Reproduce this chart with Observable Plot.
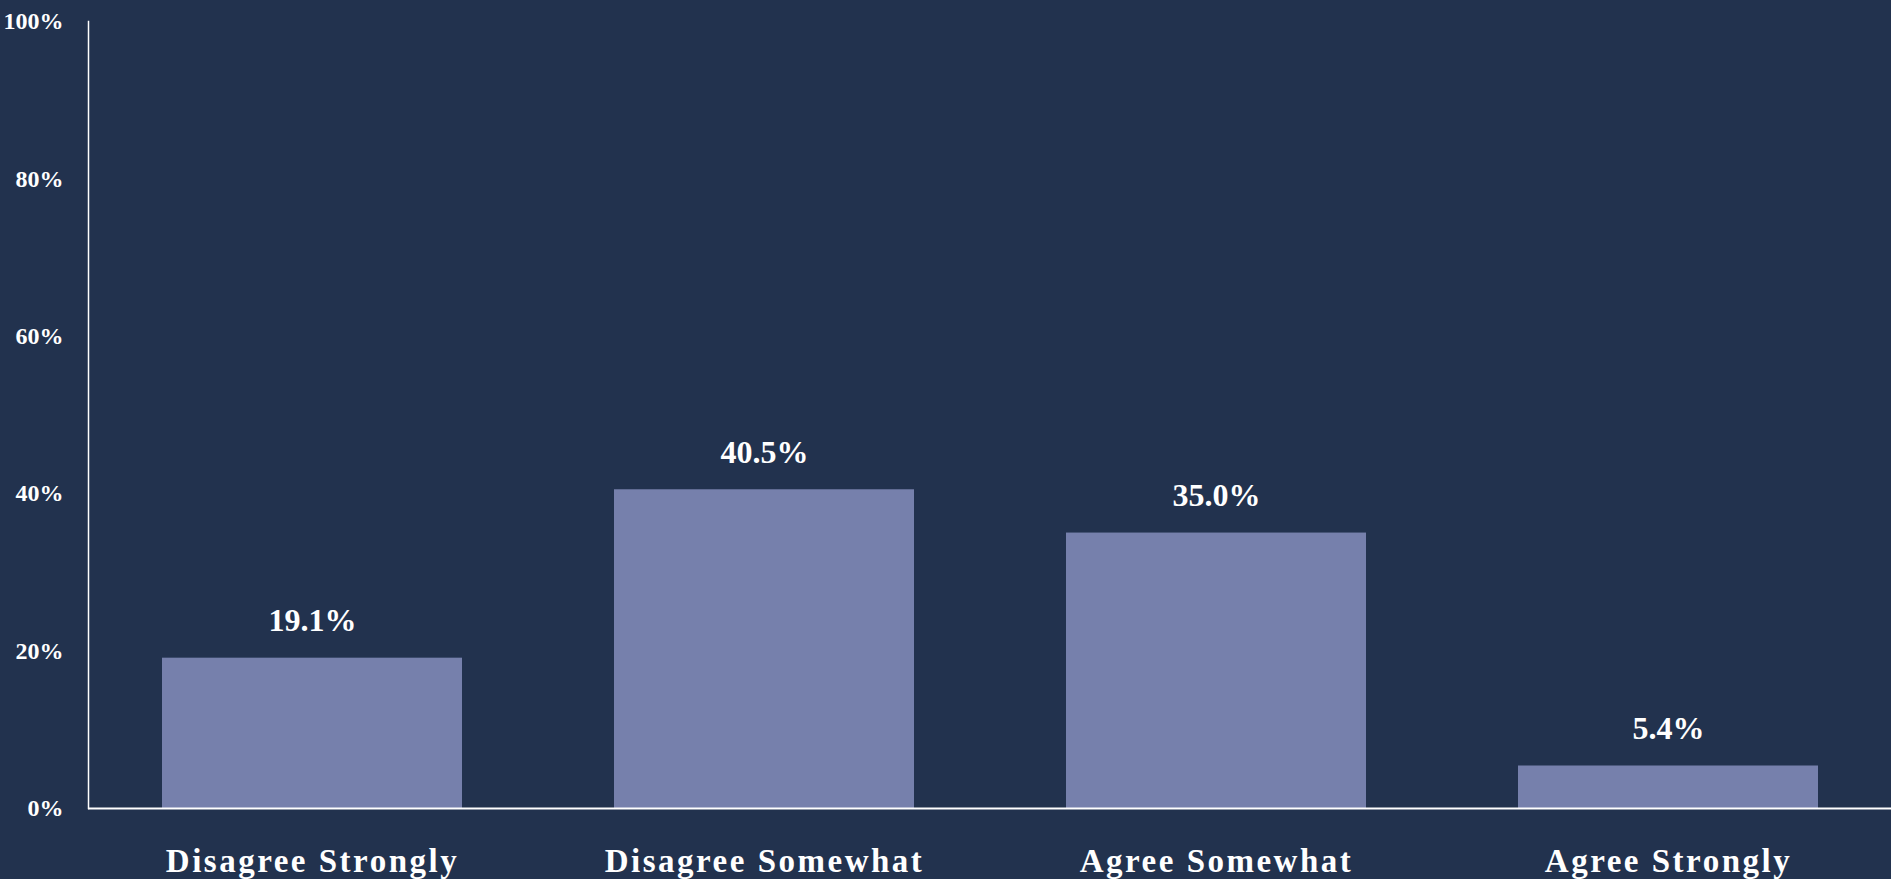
<!DOCTYPE html>
<html>
<head>
<meta charset="utf-8">
<script src="https://cdn.jsdelivr.net/npm/d3@7"></script>
<script src="https://cdn.jsdelivr.net/npm/@observablehq/plot@0.6"></script>
<style>
  html, body { margin: 0; padding: 0; background: #22324E; overflow: hidden; }
  .chart [aria-label="x-axis tick label"] text { letter-spacing: 2.5px; }
</style>
</head>
<body>
<div id="chart"></div>
<script>
const categories = ["Disagree Strongly", "Disagree Somewhat", "Agree Somewhat", "Agree Strongly"];
const values = [19.1, 40.5, 35.0, 5.4];
const yTicks = [0, 20, 40, 60, 80, 100];

const data = categories.map((c, i) => ({category: c, value: values[i]}));

const chart = Plot.plot({
  className: "chart",
  width: 1891,
  height: 879,
  marginTop: 21,
  marginBottom: 71,
  marginLeft: 88,
  marginRight: 0,
  style: {background: "#22324E", color: "#FFFFFF", fontFamily: "'Liberation Serif', serif"},
  x: {domain: categories, paddingInner: 0.337, paddingOuter: 0.161, label: null},
  y: {domain: [0, 100], label: null},
  marks: [
    Plot.barY(data, {x: "category", y: "value", fill: "#7680AC"}),
    Plot.axisY({ticks: yTicks, tickSize: 0, tickPadding: 25, tickFormat: d => d + "%", fontSize: 24, fontWeight: "bold", label: null}),
    Plot.axisX({tickSize: 0, tickPadding: 40, fontSize: 33, fontWeight: "bold", label: null}),
    Plot.frame({anchor: "left", stroke: "#FFFFFF", strokeWidth: 1.5}),
    Plot.ruleY([0], {stroke: "#FFFFFF", strokeWidth: 2}),
    Plot.text(data, {x: "category", y: "value", text: d => d.value.toFixed(1) + "%", dy: -37, fill: "#FFFFFF", fontSize: 32, fontWeight: "bold"})
  ]
});
document.getElementById("chart").appendChild(chart);
</script>
</body>
</html>
